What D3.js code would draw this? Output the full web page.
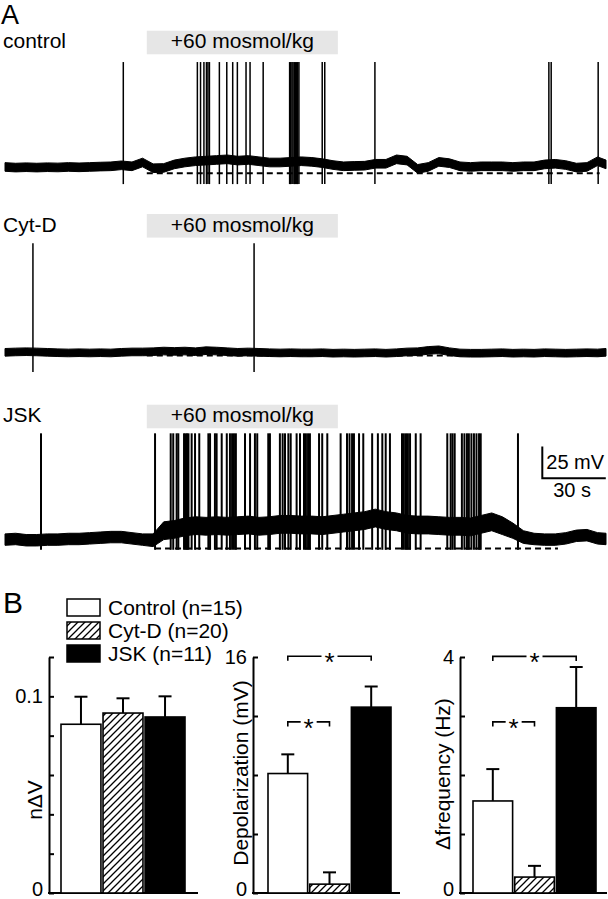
<!DOCTYPE html>
<html><head><meta charset="utf-8">
<script src="https://cdn.jsdelivr.net/npm/d3@7"></script>
<style>
body{margin:0;background:#fff}
svg{display:block}
text{font-family:"Liberation Sans",Arial,Helvetica,sans-serif;fill:#000}
</style>
</head><body>
<svg id="c" width="608" height="899"></svg>
<script>
// ---------------- DATA ----------------
// Panel A: recordings (time in s, membrane potential in mV relative to the dashed resting line)
const sampleTimes = [0,5,10,15,20,25,30,35,40,45,50,55,60,65,70,75,80,85,90,95,100,105,110,115,120,125,130,135,140,145,150,155,160,165,170,175,180,185,190,195,200,205,210,215,220,225,230,235,240,245,250,255,260,265,270,275,280,284];
const stimulus = [67, 157.3];
const stimLabel = "+60 mosmol/kg";
const traceNames = ["control", "Cyt-D", "JSK"];

const controlMid = [5.0,4.5,4.8,4.5,4.8,4.6,5.0,4.7,5.0,5.3,5.5,6.3,5.5,8.5,4.0,4.2,7.0,8.5,9.5,10,10.5,11,10,10.5,9.5,8.5,8.5,9,9.5,9,8,6.5,5.5,5.8,6,7.5,7.5,11,10,3.5,5,9,8,5.5,5,5.5,5.5,5.5,5,5.5,5.5,7,7.5,6.5,4.5,5,9.5,7];
const cytdMid = [2.5,2.8,3,2.8,2.5,2.2,2.0,2.2,2.0,2.2,2.0,2.5,2.8,2.8,3.0,3.5,3.2,3.5,3.0,3.8,3.5,3.0,2.5,2.8,2.5,2.2,2.0,2.2,2.0,2.0,2.2,1.8,2.0,1.8,2.0,2.2,1.8,2.2,2.8,3.0,4.0,4.5,3.0,2.0,1.8,1.8,2.0,2.2,1.8,2.0,1.8,2.2,2.0,1.8,2.0,2.2,2.0,2.5];
const jskMid = [7,7.5,6.5,6.5,7,7,7.5,7.5,8,8.5,9,9,8,7,6.5,14,15,17,18,17.5,18,17.5,18,18.5,17.5,18,19,19,18.5,18.5,18,19,20,21,22,24,22,21,19,18.5,18.5,18,17.5,17.5,17,19,21,18,14,9,7.5,7,7,8,10,10.5,8,7.5];
const jskSpread = [4.5,4.5,4.5,4.5,4.5,4.5,4.5,4.5,4.5,4.5,4.5,4.5,4.5,4.5,5,7,7,7,7,7,7,7,7,7,7,7,7,7,7,7,7,7,7,7,7,7,7,7,7,7,7,7,7,7,7,7,7,7,6,5,4.5,4.5,4.5,4.5,4.5,4.5,4.5,4.5];

const controlSpikes = [55.9,90.9,92.4,94.0,95.2,95.9,96.6,101.3,104.8,107.6,109.8,113.9,115.8,122.0,134.5,135.0,135.6,136.1,136.7,137.2,137.8,138.3,138.9,149.9,151.1,174.8,257.0,258.1,280.3];
const cytdSpikes = [13.2,117.7];
const jskSpikes = [17.0,70.9,78.3,79.5,81.1,81.9,84.6,85.3,86.0,86.7,88.2,89.8,91.8,96.1,96.9,99.2,100.0,102.4,104.8,106.3,107.3,108.2,109.1,113.4,115.8,118.1,119.2,124.4,125.2,129.9,131.2,132.3,133.9,135.0,137.8,139.4,141.3,142.2,143.2,144.1,148.4,149.9,152.3,158.6,161.6,162.8,164.0,164.9,167.3,169.3,173.5,176.2,178.3,179.9,181.9,187.6,188.5,189.5,190.4,191.4,194.1,196.4,209.0,210.6,211.5,212.5,215.9,217.1,218.3,219.2,220.4,221.6,222.8,224.0,224.8,242.4];

const spikePeaks = [87.6, 88.3, 90.7];
const spikeTroughs = [-8.5, -13, -1];
const dashRanges = [[67,281],[67,281],[70.9,261.3]];
const scaleBarMV = 25, scaleBarS = 30;

// Panel B: bar charts
const groups = ["Control (n=15)", "Cyt-D (n=20)", "JSK (n=11)"];
const ndvMean = [0.0858, 0.0915, 0.0895];
const ndvSem  = [0.014, 0.0075, 0.0105];
const depMean = [8.1, 0.6, 12.6];
const depSem  = [1.3, 0.8, 1.4];
const freqMean = [1.56, 0.27, 3.14];
const freqSem  = [0.54, 0.19, 0.69];
const ndvTicks = [0,0.02,0.04,0.06,0.08,0.1,0.12];
const depTicks = [0,4,8,12,16];
const freqTicks = [0,1,2,3,4];

// ---------------- DRAW ----------------
const svg = d3.select("#c");
const defs = svg.append("defs");
const pat = defs.append("pattern").attr("id","hatch").attr("patternUnits","userSpaceOnUse")
  .attr("width",7).attr("height",7);
pat.append("rect").attr("width",7).attr("height",7).attr("fill","#fff");
pat.append("path").attr("d","M-1,1 l2,-2 M0,7 l7,-7 M6,8 l2,-2").attr("stroke","#000").attr("stroke-width",1.3);

svg.append("text").attr("x",1).attr("y",24).attr("font-size",27).text("A");
svg.append("text").attr("x",3).attr("y",613).attr("font-size",30).text("B");

const x = d3.scaleLinear().domain([0,284]).range([5,606]);
const layout = [
  {base:173.3, boxTop:30.7, mid:controlMid, spread:sampleTimes.map(()=>3.4), spikes:controlSpikes, sw:1.5},
  {base:355.5, boxTop:214, mid:cytdMid, spread:sampleTimes.map(()=>3.0), spikes:cytdSpikes, sw:1.5},
  {base:548.5, boxTop:404.7, mid:jskMid, spread:jskSpread, spikes:jskSpikes, sw:2}
];
const yScales = [];
layout.forEach((L,i)=>{
  const y = d3.scaleLinear().domain([0,100]).range([L.base, L.base-127]);
  yScales.push(y);
  const g = svg.append("g");
  g.append("rect").attr("x",x(stimulus[0])).attr("y",L.boxTop)
    .attr("width",x(stimulus[1])-x(stimulus[0])).attr("height",23.6).attr("fill","#e6e6e6");
  g.append("text").attr("x",(x(stimulus[0])+x(stimulus[1]))/2).attr("y",L.boxTop+17.6)
    .attr("text-anchor","middle").attr("font-size",21).text(stimLabel);
  g.append("text").attr("x",3).attr("y",L.boxTop+17.6).attr("font-size",21).text(traceNames[i]);
  g.append("line").attr("x1",x(dashRanges[i][0])).attr("x2",x(dashRanges[i][1]))
    .attr("y1",y(0)).attr("y2",y(0)).attr("stroke","#000").attr("stroke-width",2)
    .attr("stroke-dasharray","6,4");
  const pts = sampleTimes.map((t,k)=>({t, m:L.mid[k], s:L.spread[k]}));
  g.append("path").datum(pts)
    .attr("d", d3.area().x(d=>x(d.t)).y0(d=>y(d.m-d.s)).y1(d=>y(d.m+d.s)))
    .attr("fill","#000").attr("stroke","#000").attr("stroke-width",1);
  g.selectAll("line.sp").data(L.spikes).join("line").attr("class","sp")
    .attr("x1",d=>x(d)).attr("x2",d=>x(d))
    .attr("y1",y(spikeTroughs[i])).attr("y2",y(spikePeaks[i]))
    .attr("stroke","#000").attr("stroke-width",L.sw);
});

// scale bar (on JSK trace)
{
  const y = yScales[2];
  const t0 = 253.9, v0 = 55.3;
  svg.append("path").attr("d",`M${x(t0)},${y(v0+scaleBarMV)}V${y(v0)}H${x(t0+scaleBarS)}`)
    .attr("fill","none").attr("stroke","#000").attr("stroke-width",2);
  svg.append("text").attr("x",x(t0)+4).attr("y",y(v0)-9).attr("font-size",20).text(scaleBarMV+" mV");
  svg.append("text").attr("x",(x(t0)+x(t0+scaleBarS))/2-2).attr("y",y(v0)+18.5)
    .attr("text-anchor","middle").attr("font-size",20).text(scaleBarS+" s");
}

// legend
const fills = ["#fff","url(#hatch)","#000"];
const legTops = [599, 622, 645];
groups.forEach((gname,i)=>{
  svg.append("rect").attr("x",67).attr("y",legTops[i]).attr("width",33).attr("height",17)
    .attr("fill",fills[i]).attr("stroke","#000").attr("stroke-width",1.5);
  svg.append("text").attr("x",108).attr("y",legTops[i]+15.5).attr("font-size",21).text(gname);
});

function barChart(cfg){
  const y = d3.scaleLinear().domain([0,cfg.max]).range([893,657]);
  const xb = d3.scaleBand().domain(groups).range(cfg.barRange).paddingInner(0.05);
  const ax = svg.append("g").attr("transform",`translate(${cfg.axisX},0)`)
    .call(d3.axisLeft(y).tickValues(cfg.ticks).tickSizeInner(-5).tickSizeOuter(0).tickPadding(6)
      .tickFormat(d => cfg.labels.includes(d) ? cfg.fmt(d) : ""));
  ax.attr("font-family",null).attr("font-size",20);
  ax.selectAll("path,line").attr("stroke","#000").attr("stroke-width",2);
  ax.selectAll("text").attr("fill","#000").attr("dy", d => d===0 ? "0.1em" : "0.3em");
  svg.append("line").attr("x1",cfg.axisX-1).attr("x2",cfg.baseEnd).attr("y1",y(0)).attr("y2",y(0))
    .attr("stroke","#000").attr("stroke-width",2);
  const g = svg.append("g");
  groups.forEach((gname,i)=>{
    const cx = xb(gname)+xb.bandwidth()/2;
    const top = y(cfg.mean[i]), et = y(cfg.mean[i]+cfg.sem[i]);
    g.append("line").attr("x1",cx).attr("x2",cx).attr("y1",top).attr("y2",et)
      .attr("stroke","#000").attr("stroke-width",2);
    g.append("line").attr("x1",cx-6.5).attr("x2",cx+6.5).attr("y1",et).attr("y2",et)
      .attr("stroke","#000").attr("stroke-width",2);
    g.append("rect").attr("x",xb(gname)).attr("y",top).attr("width",xb.bandwidth())
      .attr("height",y(0)-top).attr("fill",fills[i]).attr("stroke","#000").attr("stroke-width",1.6);
  });
  svg.append("text").attr("transform",`translate(${cfg.labelX},${cfg.labelY}) rotate(-90)`)
    .attr("text-anchor","middle").attr("font-size",21).text(cfg.label);
  (cfg.brackets||[]).forEach(b=>{
    const x1 = xb(groups[b[0]])+xb.bandwidth()/2, x2 = xb(groups[b[1]])+xb.bandwidth()/2;
    const yy = y(b[2]), mid=(x1+x2)/2;
    g.append("path").attr("d",`M${x1},${yy+4.5}V${yy}H${mid-8}M${mid+8},${yy}H${x2}V${yy+4.5}`)
      .attr("fill","none").attr("stroke","#000").attr("stroke-width",1.6);
    g.append("text").attr("x",mid).attr("y",yy+15).attr("text-anchor","middle")
      .attr("font-size",26).text("*");
  });
}

barChart({max:0.12, ticks:ndvTicks, labels:[0,0.1], fmt:d=>d===0?"0":"0.1", axisX:49, baseEnd:198,
  barRange:[61,185], mean:ndvMean, sem:ndvSem, label:"n\u0394V", labelX:42, labelY:800});
barChart({max:16, ticks:depTicks, labels:[0,16], fmt:d=>String(d), axisX:253, baseEnd:400,
  barRange:[268,391], mean:depMean, sem:depSem, label:"Depolarization (mV)", labelX:248, labelY:773,
  brackets:[[0,2,16.05],[0,1,11.6]]});
barChart({max:4, ticks:freqTicks, labels:[0,4], fmt:d=>String(d), axisX:460, baseEnd:607,
  barRange:[473,596], mean:freqMean, sem:freqSem, label:"\u0394frequency (Hz)", labelX:450, labelY:774,
  brackets:[[0,2,4.01],[0,1,2.9]]});
</script>
</body></html>
